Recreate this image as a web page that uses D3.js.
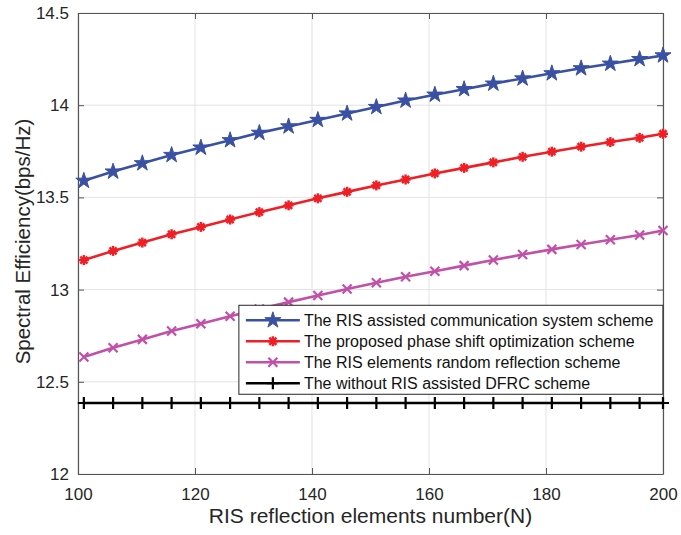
<!DOCTYPE html>
<html>
<head>
<meta charset="utf-8">
<script src="https://cdn.jsdelivr.net/npm/d3@7"></script>
<style>
  body { margin: 0; background: #fff; }
  svg { font-family: "Liberation Sans", Arial, sans-serif; }
</style>
</head>
<body>
<div id="chart"></div>
<script>
// Data
const xValues = [101, 106, 111, 116, 121, 126, 131, 136, 141, 146, 151, 156, 161, 166, 171, 176, 181, 186, 191, 196, 200];
const risAssisted = [13.59, 13.64, 13.685, 13.73, 13.77, 13.81, 13.85, 13.885, 13.92, 13.955, 13.99, 14.025, 14.057, 14.087, 14.117, 14.145, 14.173, 14.2, 14.225, 14.25, 14.27];
const proposedPhase = [13.16, 13.21, 13.255, 13.3, 13.34, 13.38, 13.42, 13.457, 13.495, 13.53, 13.565, 13.597, 13.63, 13.66, 13.69, 13.72, 13.748, 13.775, 13.8, 13.823, 13.845];
const randomReflection = [12.635, 12.685, 12.73, 12.775, 12.815, 12.855, 12.895, 12.932, 12.968, 13.003, 13.037, 13.07, 13.1, 13.13, 13.16, 13.19, 13.218, 13.245, 13.27, 13.296, 13.32];
const withoutRIS = [12.385, 12.385, 12.385, 12.385, 12.385, 12.385, 12.385, 12.385, 12.385, 12.385, 12.385, 12.385, 12.385, 12.385, 12.385, 12.385, 12.385, 12.385, 12.385, 12.385, 12.385];
const xTicks = [100, 120, 140, 160, 180, 200];
const yTicks = [12, 12.5, 13, 13.5, 14, 14.5];

const series = [
  { name: "The RIS assisted communication system scheme", values: risAssisted, color: "#3a51a3", marker: "star" },
  { name: "The proposed phase shift optimization scheme", values: proposedPhase, color: "#ee1f25", marker: "asterisk" },
  { name: "The RIS elements random reflection scheme", values: randomReflection, color: "#c050a8", marker: "cross" },
  { name: "The without RIS assisted DFRC scheme", values: withoutRIS, color: "#000000", marker: "plus" },
];

const width = 681, height = 535;
const margin = { top: 13, right: 18, bottom: 61, left: 78 };
const innerW = width - margin.left - margin.right;
const innerH = height - margin.top - margin.bottom;

const x = d3.scaleLinear().domain([100, 200]).range([0, innerW]);
const y = d3.scaleLinear().domain([12, 14.5]).range([innerH, 0]);

const svg = d3.select("#chart").append("svg")
  .attr("width", width)
  .attr("height", height);

const g = svg.append("g").attr("transform", `translate(${margin.left},${margin.top})`);

// grid
g.append("g").selectAll("line").data(xTicks).join("line")
  .attr("x1", (d) => x(d)).attr("x2", (d) => x(d))
  .attr("y1", 0).attr("y2", innerH)
  .attr("stroke", "#e3e3e3").attr("stroke-width", 1);
g.append("g").selectAll("line").data(yTicks).join("line")
  .attr("x1", 0).attr("x2", innerW)
  .attr("y1", (d) => y(d)).attr("y2", (d) => y(d))
  .attr("stroke", "#e3e3e3").attr("stroke-width", 1);

// axes with inward ticks (box on all four sides)
const tickLen = 6;
const xAxis = g.append("g")
  .attr("transform", `translate(0,${innerH})`)
  .call(d3.axisBottom(x).tickValues(xTicks).tickSizeInner(-tickLen).tickSizeOuter(0).tickPadding(14));
const yAxis = g.append("g")
  .call(d3.axisLeft(y).tickValues(yTicks).tickFormat(d3.format("")).tickSizeInner(-tickLen).tickSizeOuter(0).tickPadding(9));
const xTop = g.append("g")
  .call(d3.axisTop(x).tickValues(xTicks).tickSizeInner(-tickLen).tickSizeOuter(0).tickFormat(""));
const yRight = g.append("g")
  .attr("transform", `translate(${innerW},0)`)
  .call(d3.axisRight(y).tickValues(yTicks).tickSizeInner(-tickLen).tickSizeOuter(0).tickFormat(""));

[xAxis, yAxis, xTop, yRight].forEach((a) => {
  a.select(".domain").attr("stroke", "#555").attr("stroke-width", 1.2);
  a.selectAll(".tick line").attr("stroke", "#555");
  a.selectAll(".tick text").attr("fill", "#262626").style("font-size", "17px").style("font-family", "Liberation Sans, Arial, sans-serif");
});

// markers
const starPath = d3.symbol().type(d3.symbolStar).size(80)();
function drawMarker(sel, type, color) {
  if (type === "star") {
    sel.append("path").attr("d", starPath).attr("fill", color).attr("stroke", color).attr("stroke-width", 1);
  } else if (type === "asterisk") {
    const r = 5;
    [0, 45, 90, 135].forEach((a) => {
      const rad = (a * Math.PI) / 180;
      sel.append("line")
        .attr("x1", -r * Math.cos(rad)).attr("y1", -r * Math.sin(rad))
        .attr("x2", r * Math.cos(rad)).attr("y2", r * Math.sin(rad))
        .attr("stroke", color).attr("stroke-width", 2.5);
    });
  } else if (type === "cross") {
    const r = 4.5;
    sel.append("path").attr("d", `M${-r},${-r}L${r},${r}M${-r},${r}L${r},${-r}`)
      .attr("stroke", color).attr("stroke-width", 2.2).attr("fill", "none");
  } else if (type === "plus") {
    const r = 6;
    sel.append("path").attr("d", `M0,${-r}L0,${r}M${-r},0L${r},0`)
      .attr("stroke", color).attr("stroke-width", 2.2).attr("fill", "none");
  }
}

const line = d3.line().x((d) => x(d[0])).y((d) => y(d[1]));

series.forEach((s) => {
  const pts = xValues.map((xv, i) => [xv, s.values[i]]);
  g.append("path")
    .datum(pts)
    .attr("d", line)
    .attr("fill", "none")
    .attr("stroke", s.color)
    .attr("stroke-width", 2.6);
  g.append("g").selectAll("g").data(pts).join("g")
    .attr("transform", (d) => `translate(${x(d[0])},${y(d[1])})`)
    .each(function () { drawMarker(d3.select(this), s.marker, s.color); });
});

// legend
const legend = g.append("g").attr("transform", `translate(${x(127.5)},${y(12.915)})`);
const legW = 424, legH = 89, rowH = 21;
legend.append("rect")
  .attr("width", legW).attr("height", legH)
  .attr("fill", "#fff").attr("stroke", "#262626").attr("stroke-width", 1);
series.forEach((s, i) => {
  const row = legend.append("g").attr("transform", `translate(0,${15 + i * rowH})`);
  row.append("line").attr("x1", 7).attr("x2", 61).attr("y1", 0).attr("y2", 0)
    .attr("stroke", s.color).attr("stroke-width", 2.6);
  const m = row.append("g").attr("transform", "translate(34,0)");
  drawMarker(m, s.marker, s.color);
  row.append("text").attr("x", 65).attr("y", 0).attr("dy", "0.35em")
    .attr("fill", "#111").style("font-size", "16px").text(s.name);
});

// axis labels
svg.append("text")
  .attr("x", margin.left + innerW / 2).attr("y", 523)
  .attr("text-anchor", "middle").attr("fill", "#262626")
  .style("font-size", "21px")
  .text("RIS reflection elements number(N)");
svg.append("text")
  .attr("transform", `translate(30,${margin.top + innerH / 2 - 2}) rotate(-90)`)
  .attr("text-anchor", "middle").attr("fill", "#262626")
  .style("font-size", "20.5px")
  .text("Spectral Efficiency(bps/Hz)");
</script>
</body>
</html>
